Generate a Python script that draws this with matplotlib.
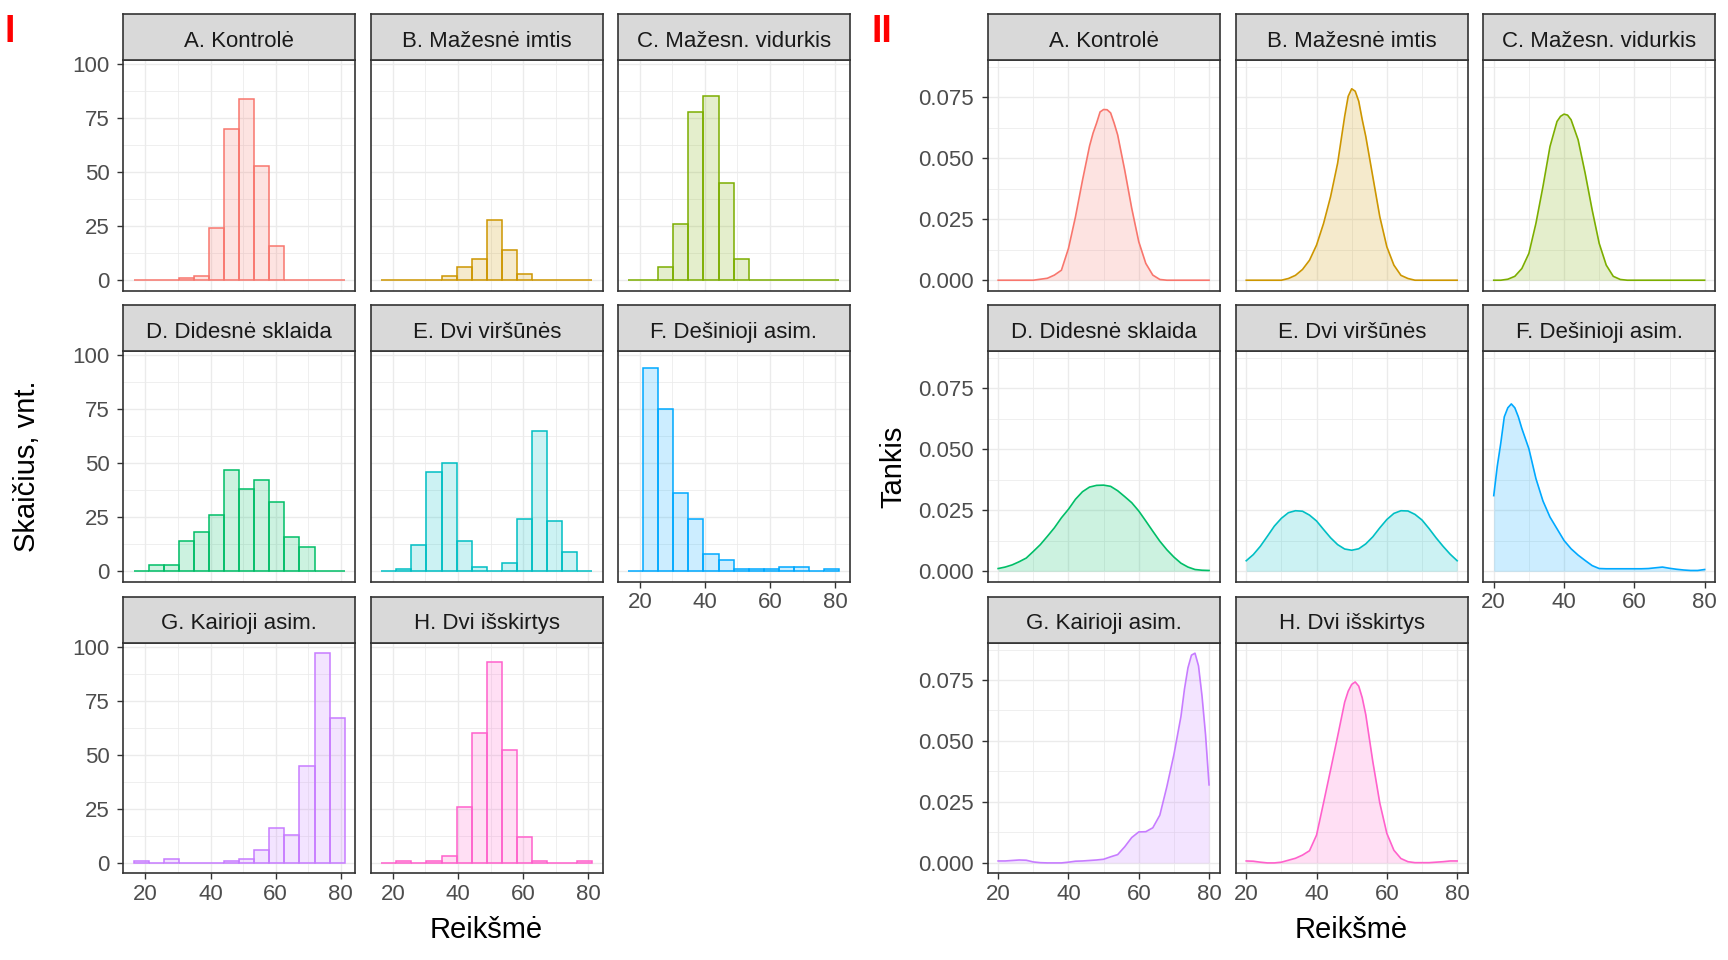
import numpy as np
import matplotlib
matplotlib.use("Agg")
import matplotlib.pyplot as plt
from matplotlib.colors import to_rgba

plt.rcParams['font.family'] = ['Liberation Sans', 'DejaVu Sans']

# ---------------- data ----------------
facets = ["A. Kontrolė", "B. Mažesnė imtis", "C. Mažesn. vidurkis",
          "D. Didesnė sklaida", "E. Dvi viršūnės", "F. Dešinioji asim.",
          "G. Kairioji asim.", "H. Dvi išskirtys"]
colors = ["#F8766D", "#CD9600", "#7CAE00", "#00BE67",
          "#00BFC4", "#00A9FF", "#C77CFF", "#FF61CC"]

# histogram: 14 bins between these edges
hist_lo, hist_hi, n_bins = 16.42, 81.19, 14
counts_A = [0, 0, 0, 1, 2, 24, 70, 84, 53, 16, 0, 0, 0, 0]
counts_B = [0, 0, 0, 0, 2, 6, 10, 28, 14, 3, 0, 0, 0, 0]
counts_C = [0, 0, 6, 26, 78, 85, 45, 10, 0, 0, 0, 0, 0, 0]
counts_D = [0, 3, 3, 14, 18, 26, 47, 38, 42, 32, 16, 11, 0, 0]
counts_E = [0, 1, 12, 46, 50, 14, 2, 0, 4, 24, 65, 23, 9, 0]
counts_F = [0, 94, 75, 36, 24, 8, 5, 1, 1, 1, 2, 2, 0, 1]
counts_G = [1, 0, 2, 0, 0, 0, 1, 2, 6, 16, 13, 45, 97, 67]
counts_H = [0, 1, 0, 1, 3, 26, 60, 93, 52, 12, 1, 0, 0, 1]

# density curves
dens_x_A = [20, 22, 24, 26, 28, 30, 32, 34, 36, 38, 40, 42, 44, 46, 47, 48,
            49, 50, 51, 52, 53, 54, 56, 58, 60, 62, 64, 66, 68, 70, 72, 74,
            76, 78, 80]
dens_y_A = [0, 0, 0, 0, 0, 0, 0.0004, 0.0008, 0.0021, 0.0041, 0.013, 0.026,
            0.041, 0.055, 0.0603, 0.0644, 0.0690, 0.0700, 0.0699, 0.0686,
            0.0644, 0.0596, 0.0452, 0.0295, 0.0158, 0.0069, 0.0021, 0.0003,
            0, 0, 0, 0, 0, 0, 0]
dens_x_B = [20, 22, 24, 26, 28, 30, 32, 34, 36, 38, 40, 42, 44, 46, 47, 48,
            49, 50, 51, 52, 53, 54, 56, 58, 60, 62, 64, 66, 68, 70, 72, 74,
            76, 78, 80]
dens_y_B = [0, 0, 0, 0, 0, 0, 0.0007, 0.002, 0.0044, 0.0082, 0.0144, 0.0233,
            0.0343, 0.048, 0.0576, 0.0672, 0.0754, 0.0785, 0.0775, 0.0734,
            0.0658, 0.059, 0.0425, 0.026, 0.0137, 0.0062, 0.002, 0.0007,
            0, 0, 0, 0, 0, 0, 0]
dens_x_C = [20, 22, 24, 26, 28, 30, 32, 34, 36, 38, 39, 40, 41, 42, 44, 46,
            48, 50, 52, 54, 56, 58, 60, 62, 64, 66, 68, 70, 72, 74, 76, 78, 80]
dens_y_C = [0, 0, 0.0004, 0.0016, 0.0048, 0.011, 0.0233, 0.0384, 0.0548,
            0.0651, 0.0672, 0.0681, 0.0677, 0.0658, 0.0576, 0.0439, 0.0288,
            0.0151, 0.0062, 0.0016, 0.0003, 0, 0, 0, 0, 0, 0, 0, 0, 0, 0, 0, 0]
dens_x_D = [20, 22, 24, 26, 28, 30, 32, 34, 36, 38, 40, 42, 44, 46, 48, 50,
            52, 54, 56, 58, 60, 62, 64, 66, 68, 70, 72, 74, 76, 78, 80]
dens_y_D = [0.0011, 0.0017, 0.0026, 0.0039, 0.0054, 0.0081, 0.0109, 0.0143,
            0.0178, 0.0219, 0.0254, 0.0295, 0.0326, 0.0345, 0.0352, 0.0353,
            0.0348, 0.0330, 0.0306, 0.0281, 0.0247, 0.0206, 0.0164, 0.0123,
            0.0088, 0.0058, 0.0033, 0.0017, 0.0007, 0.0004, 0.0003]
dens_x_E = [20, 22, 24, 26, 28, 30, 32, 34, 36, 38, 40, 42, 44, 46, 48, 50,
            52, 54, 56, 58, 60, 62, 64, 66, 68, 70, 72, 74, 76, 78, 80]
dens_y_E = [0.0043, 0.0068, 0.0102, 0.0143, 0.0185, 0.0217, 0.0240, 0.0248,
            0.0246, 0.0230, 0.0206, 0.0171, 0.0137, 0.0109, 0.0091, 0.0086,
            0.0092, 0.0112, 0.0141, 0.0178, 0.0212, 0.0237, 0.0248, 0.0247,
            0.0233, 0.0210, 0.0175, 0.0137, 0.0102, 0.0070, 0.0043]
dens_x_F = [20, 21, 22, 23, 24, 25, 26, 27, 28, 30, 32, 34, 36, 38, 40, 42,
            44, 46, 48, 50, 52, 54, 56, 58, 60, 62, 64, 66, 68, 70, 72, 74,
            76, 78, 80]
dens_y_F = [0.031, 0.043, 0.0525, 0.0633, 0.067, 0.0686, 0.067, 0.0633,
            0.0585, 0.0502, 0.038, 0.0288, 0.0222, 0.0174, 0.0126, 0.0092,
            0.0066, 0.0044, 0.0023, 0.0011, 0.001, 0.001, 0.001, 0.001,
            0.001, 0.001, 0.0011, 0.0014, 0.0017, 0.0012, 0.0008, 0.0005,
            0.0003, 0.0003, 0.0007]
dens_x_G = [20, 22, 24, 26, 28, 30, 32, 34, 36, 38, 40, 42, 44, 46, 48, 50,
            52, 54, 56, 58, 60, 62, 64, 66, 68, 70, 72, 73, 74, 75, 76, 77,
            78, 79, 80]
dens_y_G = [0.0008, 0.0008, 0.001, 0.0012, 0.0011, 0.0004, 0.0001, 0, 0, 0,
            0.0003, 0.0007, 0.0008, 0.001, 0.0012, 0.0015, 0.0025, 0.0034,
            0.0066, 0.0104, 0.0127, 0.0128, 0.0144, 0.0196, 0.0313, 0.0444,
            0.060, 0.0712, 0.080, 0.0852, 0.0860, 0.0808, 0.0684, 0.0526,
            0.032]
dens_x_H = [20, 22, 24, 26, 28, 30, 32, 34, 36, 38, 40, 42, 44, 46, 48, 49,
            50, 51, 52, 53, 54, 56, 58, 60, 62, 64, 66, 68, 70, 72, 74, 76,
            78, 80]
dens_y_H = [0.0008, 0.0007, 0.0003, 0, 0, 0.0003, 0.0011, 0.0019, 0.0032,
            0.005, 0.0114, 0.0247, 0.0382, 0.0519, 0.0659, 0.0704, 0.0732,
            0.0742, 0.0725, 0.0677, 0.0608, 0.0416, 0.0245, 0.0121, 0.0052,
            0.0018, 0.0005, 0.0001, 0.0001, 0.0001, 0.0003, 0.0005, 0.0008,
            0.0008]

all_counts = [counts_A, counts_B, counts_C, counts_D,
              counts_E, counts_F, counts_G, counts_H]
all_dens = [(dens_x_A, dens_y_A), (dens_x_B, dens_y_B),
            (dens_x_C, dens_y_C), (dens_x_D, dens_y_D),
            (dens_x_E, dens_y_E), (dens_x_F, dens_y_F),
            (dens_x_G, dens_y_G), (dens_x_H, dens_y_H)]

x_ticks = [20, 40, 60, 80]
hist_y_ticks = [0, 25, 50, 75, 100]
dens_y_ticks = [0.0, 0.025, 0.050, 0.075]
dens_y_labels = ["0.000", "0.025", "0.050", "0.075"]

# ---------------- layout ----------------
W, H = 1728, 960
fig = plt.figure(figsize=(W / 100, H / 100), dpi=100)

hist_cols = [123.2, 370.7, 617.6]
dens_cols = [987.6, 1235.7, 1483.2]
row_tops = [60.0, 351.0, 642.7]
panel_w, panel_h, strip_h = 232.0, 230.7, 45.7

GRID = "#EBEBEB"
DARK = "#333333"
TICKC = "#4D4D4D"


def px_axes(x, y_top, w, h):
    return fig.add_axes([x / W, 1 - (y_top + h) / H, w / W, h / H])


def add_strip(x, y_top, text):
    s = px_axes(x, y_top - strip_h, panel_w, strip_h)
    s.set_facecolor("#D9D9D9")
    s.set_xticks([]); s.set_yticks([])
    for sp in s.spines.values():
        sp.set_color(DARK); sp.set_linewidth(1.2)
    s.text(0.5, 1 - 32.4 / strip_h, text, ha="center", va="baseline",
           fontsize=16, color="#1A1A1A", transform=s.transAxes)


def style_axes(ax, show_x, show_y, xlim, ylim, yticks, yminor, ylabels=None):
    ax.set_xlim(*xlim); ax.set_ylim(*ylim)
    ax.set_xticks(x_ticks); ax.set_xticks([30, 50, 70], minor=True)
    ax.set_yticks(yticks); ax.set_yticks(yminor, minor=True)
    if ylabels is not None:
        ax.set_yticklabels(ylabels)
    ax.set_axisbelow(True)
    ax.grid(which="major", color=GRID, linewidth=1.0)
    ax.grid(which="minor", color=GRID, linewidth=0.55)
    for sp in ax.spines.values():
        sp.set_color(DARK); sp.set_linewidth(1.2)
    ax.tick_params(which="minor", length=0)
    ax.tick_params(axis="x", which="major", direction="out", length=4.3,
                   width=1.0, color=DARK, labelsize=16, labelcolor=TICKC,
                   pad=3.2, bottom=show_x, labelbottom=show_x)
    ax.tick_params(axis="y", which="major", direction="out", length=4.3,
                   width=1.0, color=DARK, labelsize=16, labelcolor=TICKC,
                   pad=5.5, left=show_y, labelleft=show_y)


edges = np.linspace(hist_lo, hist_hi, n_bins + 1)
centers = (edges[:-1] + edges[1:]) / 2
bw = edges[1] - edges[0]
hist_xlim = (hist_lo - 0.05 * (hist_hi - hist_lo), hist_hi + 0.05 * (hist_hi - hist_lo))
cmax = max(max(c) for c in all_counts)
hist_ylim = (-0.05 * cmax, cmax * 1.05)
dmax = max(max(d[1]) for d in all_dens)
dens_ylim = (-0.05 * dmax, dmax * 1.05)
dens_xlim = (17, 83)

for i, name in enumerate(facets):
    r, c = divmod(i, 3)
    show_x = (r == 2) or (i == 5)
    show_y = (c == 0)
    col = colors[i]

    # histogram panel
    ax = px_axes(hist_cols[c], row_tops[r], panel_w, panel_h)
    ax.bar(centers, all_counts[i], width=bw, color=to_rgba(col, 0.2),
           edgecolor=col, linewidth=1.1, zorder=2)
    style_axes(ax, show_x, show_y, hist_xlim, hist_ylim, hist_y_ticks,
               [12.5, 37.5, 62.5, 87.5])
    add_strip(hist_cols[c], row_tops[r], name)

    # density panel
    dx, dy = all_dens[i]
    ax2 = px_axes(dens_cols[c], row_tops[r], panel_w, panel_h)
    ax2.fill_between(dx, dy, 0, color=col, alpha=0.2, linewidth=0, zorder=2)
    ax2.plot(dx, dy, color=col, linewidth=1.2, zorder=3,
             solid_joinstyle="round")
    style_axes(ax2, show_x, show_y, dens_xlim, dens_ylim, dens_y_ticks,
               [0.0125, 0.0375, 0.0625, 0.0875], dens_y_labels)
    add_strip(dens_cols[c], row_tops[r], name)

# axis titles
fig.text(486.1 / W, 1 - 938 / H, "Reikšmė", ha="center", va="baseline",
         fontsize=21, color="black")
fig.text(1351.1 / W, 1 - 938 / H, "Reikšmė", ha="center", va="baseline",
         fontsize=21, color="black")
fig.text(27 / W, 1 - 466.7 / H, "Skaičius, vnt.", rotation=90, ha="center",
         va="center", fontsize=21, color="black")
fig.text(893 / W, 1 - 466.7 / H, "Tankis", rotation=90, ha="center",
         va="center", fontsize=21, color="black")

# block tags
fig.text(4.3 / W, 1 - 41.7 / H, "I", color="#FF0000", fontsize=27,
         fontweight="bold", va="baseline", ha="left")
fig.text(871.5 / W, 1 - 41.7 / H, "II", color="#FF0000", fontsize=27,
         fontweight="bold", va="baseline", ha="left")

fig.savefig("out.png", dpi=100, facecolor="white")
